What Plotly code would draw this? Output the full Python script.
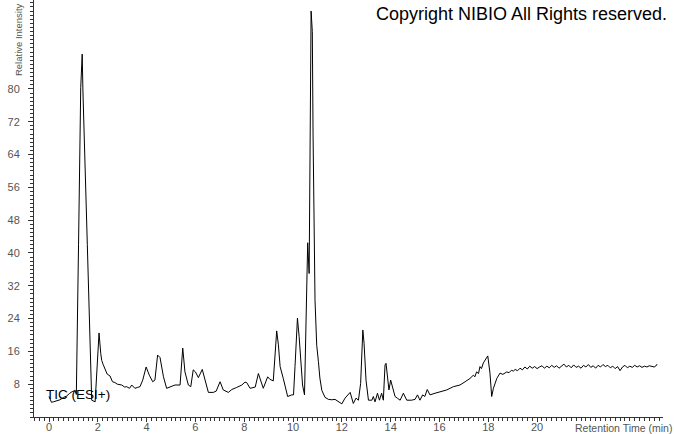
import plotly.graph_objects as go

# Retention time (min) and relative intensity
retention_time = [
    0.00, 0.10, 0.18, 0.30, 0.45, 0.60, 0.72, 0.85, 0.95, 1.07,
    1.12, 1.21, 1.30, 1.36, 1.39, 1.57, 1.75, 1.89, 2.05, 2.12,
    2.16, 2.22, 2.30, 2.38, 2.50, 2.60, 2.70, 2.80, 2.98, 3.10,
    3.18, 3.30, 3.39, 3.52, 3.62, 3.73, 3.84, 3.98, 4.11, 4.25,
    4.34, 4.45, 4.55, 4.69, 4.82, 4.96, 5.16, 5.37, 5.48, 5.57,
    5.71, 5.81, 5.91, 6.00, 6.12, 6.28, 6.39, 6.53, 6.73, 6.85,
    7.01, 7.14, 7.35, 7.49, 7.69, 7.90, 8.03, 8.10, 8.24, 8.45,
    8.58, 8.69, 8.78, 8.96, 9.05, 9.19, 9.33, 9.40, 9.47, 9.60,
    9.78, 9.95, 10.02, 10.08, 10.18, 10.25, 10.33, 10.39, 10.47, 10.60,
    10.66, 10.74, 10.79, 10.82, 10.90, 10.97, 11.04, 11.10, 11.18, 11.31,
    11.45, 11.59, 11.72, 11.85, 12.00, 12.13, 12.34, 12.47, 12.58, 12.68,
    12.77, 12.86, 12.91, 12.99, 13.09, 13.23, 13.29, 13.36, 13.46, 13.54,
    13.63, 13.70, 13.77, 13.81, 13.88, 13.93, 14.00, 14.08, 14.18, 14.27,
    14.39, 14.52, 14.66, 14.86, 15.00, 15.10, 15.20, 15.31, 15.40, 15.50,
    15.61, 15.82, 16.02, 16.30, 16.57, 16.84, 17.05, 17.25, 17.39, 17.45,
    17.52, 17.60, 17.66, 17.72, 17.80, 17.90, 17.98, 18.07, 18.14, 18.21,
    18.35, 18.48, 18.60, 18.76, 18.85, 18.95, 19.03, 19.10, 19.20, 19.30,
    19.40, 19.50, 19.60, 19.70, 19.80, 19.90, 20.00, 20.10, 20.20, 20.30,
    20.40, 20.50, 20.60, 20.70, 20.80, 20.90, 21.00, 21.10, 21.20, 21.30,
    21.40, 21.50, 21.60, 21.70, 21.80, 21.90, 22.00, 22.10, 22.20, 22.30,
    22.40, 22.50, 22.60, 22.70, 22.80, 22.90, 23.00, 23.10, 23.20, 23.30,
    23.40, 23.50, 23.60, 23.70, 23.80, 23.90, 24.00, 24.10, 24.20, 24.30,
    24.40, 24.50, 24.60, 24.70, 24.80, 24.86, 24.92,
]
intensity = [
    5.0, 3.6, 3.7, 4.0, 4.2, 4.8, 5.1, 5.8, 6.2, 6.4,
    5.5, 42.0, 80.3, 88.5, 79.5, 42.0, 4.1, 3.7, 20.5, 15.5,
    13.8, 12.8, 11.5, 10.5, 10.0, 8.6, 8.4, 8.0, 7.8, 7.3,
    7.4, 7.0, 7.8, 7.0, 7.2, 7.4, 9.0, 12.2, 10.2, 8.6,
    9.0, 15.1, 14.5, 9.8, 7.0, 7.4, 7.8, 7.8, 16.8, 11.0,
    7.8, 7.4, 11.5, 11.0, 9.6, 11.6, 9.2, 6.0, 6.0, 6.3,
    8.6, 6.6, 6.0, 6.7, 7.2, 7.8, 8.5, 8.4, 7.0, 7.3,
    10.6, 8.4, 7.0, 9.8, 9.2, 8.8, 21.0, 17.6, 12.3, 9.4,
    5.0, 5.4, 5.4, 12.3, 24.1, 19.6, 12.3, 7.8, 5.4, 42.5,
    35.0, 99.0, 94.0, 69.0, 28.5, 17.5, 13.5, 9.5, 6.5, 4.8,
    4.3, 4.2, 4.3, 3.8, 3.2, 4.6, 6.0, 3.3, 4.6, 4.1,
    8.2, 21.2, 18.0, 9.0, 4.1, 4.1, 5.0, 3.7, 5.8, 4.1,
    5.8, 4.1, 12.7, 13.1, 9.0, 6.6, 9.0, 7.4, 5.0, 4.6,
    4.1, 5.8, 4.1, 4.1, 4.3, 5.4, 4.1, 5.4, 5.0, 6.7,
    5.4, 5.8, 6.2, 6.6, 7.4, 7.8, 8.6, 9.4, 10.2, 9.8,
    11.0, 10.6, 12.3, 11.8, 13.2, 14.3, 14.9, 10.7, 5.0, 7.0,
    9.4, 10.7, 10.4, 11.0, 10.8, 11.4, 11.2, 11.6, 11.3, 11.9,
    11.5, 12.2, 11.7, 12.4, 11.9, 12.3, 11.8, 12.2, 12.5, 11.9,
    12.4, 12.0, 12.6, 12.1, 12.5, 11.9, 12.3, 12.9, 12.2, 12.6,
    12.0, 12.7, 12.1, 12.4, 11.9, 12.6, 12.2, 12.8, 12.1, 12.5,
    11.9, 12.6, 12.2, 12.8, 12.3, 12.6, 12.0, 12.4, 11.8, 12.3,
    11.3, 12.2, 12.6, 12.0, 12.4, 12.1, 12.6, 12.2, 12.5, 12.1,
    12.4, 12.2, 12.5, 12.3, 12.2, 12.4, 12.9,
]

x_tick_values = [0, 2, 4, 6, 8, 10, 12, 14, 16, 18, 20]
y_tick_values = [8, 16, 24, 32, 40, 48, 56, 64, 72, 80]

FONT = "Liberation Sans, Arial, sans-serif"
GRAY = "#555555"

fig = go.Figure()
fig.add_trace(go.Scatter(
    x=retention_time, y=intensity, mode="lines",
    line=dict(color="black", width=1), showlegend=False, hoverinfo="skip",
))

fig.update_layout(
    width=674, height=434,
    margin=dict(l=34, r=11, t=0, b=17),
    paper_bgcolor="white", plot_bgcolor="white",
    font=dict(family=FONT, size=11, color=GRAY),
    xaxis=dict(
        range=[-0.615, 25.16], showgrid=False, zeroline=False, automargin=False,
        showline=True, linecolor="#333333", linewidth=1,
        tickmode="array", tickvals=x_tick_values,
        ticks="outside", ticklen=4, tickcolor="#333333",
        ticklabelstandoff=-4,
        tickfont=dict(family=FONT, size=11, color=GRAY),
        minor=dict(dtick=0.2, tick0=0, ticks="outside", ticklen=3,
                   tickcolor="#333333", showgrid=False),
    ),
    yaxis=dict(
        range=[0, 101.7], showgrid=False, zeroline=False, automargin=False,
        showline=True, linecolor="#333333", linewidth=1,
        tickmode="array", tickvals=y_tick_values,
        ticks="outside", ticklen=5, tickcolor="#333333",
        ticklabelstandoff=6,
        tickfont=dict(family=FONT, size=11, color=GRAY),
        minor=dict(dtick=1, tick0=0, ticks="outside", ticklen=3,
                   tickcolor="#333333", showgrid=False),
    ),
    annotations=[
        dict(text="Copyright NIBIO All Rights reserved.", xref="paper", yref="paper",
             x=1, y=0.966, xanchor="right", yanchor="middle", xshift=6,
             showarrow=False, font=dict(family=FONT, size=18, color="black")),
        dict(text="TIC (ESI+)", xref="paper", yref="paper",
             x=0.0207, y=0.055, xanchor="left", yanchor="middle", xshift=-3,
             showarrow=False, font=dict(family=FONT, size=13.5, color="#000000")),
        dict(text="Retention Time (min)", xref="paper", yref="paper",
             x=1.0143, y=0, xanchor="right", yanchor="middle", yshift=-11,
             xshift=2, showarrow=False,
             font=dict(family=FONT, size=10.5, color=GRAY)),
        dict(text="Relative Intensity", xref="paper", yref="paper",
             x=0, y=0.904, xanchor="center", yanchor="middle", xshift=-16,
             textangle=-90, showarrow=False,
             font=dict(family=FONT, size=9.5, color=GRAY)),
    ],
)

fig.write_html("out.html", config={"displayModeBar": False},
               post_script="document.body.style.margin='0';")
